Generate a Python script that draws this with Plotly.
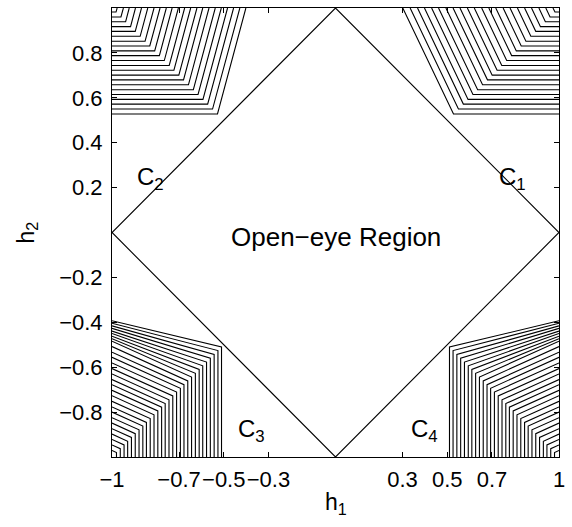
import plotly.graph_objects as go

# ---------------- data ----------------
# Diamond boundary of the open-eye region (|h1|+|h2| = 1)
diamond_h1 = [-1, 0, 1, 0, -1]
diamond_h2 = [0, 1, 0, -1, 0]

# Upper corners (C1, C2): 22 contour levels.
# corner offset d of each contour from the figure corner (corner lies on |h1| = h2 = 1-d)
upper_corner = [0.018, 0.040, 0.061, 0.083, 0.104, 0.126, 0.148, 0.169, 0.191, 0.212, 0.234,
                0.256, 0.277, 0.299, 0.320, 0.342, 0.364, 0.385, 0.407, 0.428, 0.450, 0.472]
# where each contour meets the top edge (distance from the side edge)
c1_top = [0.027, 0.059, 0.090, 0.123, 0.154, 0.186, 0.219, 0.250, 0.283, 0.314, 0.346,
          0.379, 0.410, 0.443, 0.474, 0.506, 0.539, 0.570, 0.602, 0.633, 0.666, 0.699]
c2_top = [0.023, 0.051, 0.077, 0.105, 0.132, 0.160, 0.188, 0.215, 0.243, 0.269, 0.297,
          0.325, 0.352, 0.380, 0.406, 0.434, 0.462, 0.489, 0.517, 0.544, 0.572, 0.599]

# Lower corners (C3, C4): 29 contour levels.
lower_corner = [0.020, 0.037, 0.054, 0.070, 0.087, 0.104, 0.121, 0.138, 0.154, 0.171,
                0.188, 0.205, 0.222, 0.238, 0.255, 0.272, 0.289, 0.306, 0.322, 0.339,
                0.356, 0.373, 0.390, 0.406, 0.423, 0.440, 0.457, 0.474, 0.490]
# height above the bottom edge where each contour meets the side edge
lower_side = [0.029, 0.054, 0.078, 0.102, 0.126, 0.151, 0.175, 0.200, 0.223, 0.248,
              0.273, 0.297, 0.322, 0.345, 0.370, 0.394, 0.419, 0.444, 0.467, 0.492,
              0.516, 0.527, 0.538, 0.550, 0.561, 0.573, 0.584, 0.596, 0.607]

x_tickvals = [-1, -0.7, -0.5, -0.3, 0.3, 0.5, 0.7, 1]
x_ticktext = ["\u22121", "\u22120.7", "\u22120.5", "\u22120.3", "0.3", "0.5", "0.7", "1"]
y_tickvals = [-0.8, -0.6, -0.4, -0.2, 0.2, 0.4, 0.6, 0.8]
y_ticktext = ["\u22120.8", "\u22120.6", "\u22120.4", "\u22120.2", "0.2", "0.4", "0.6", "0.8"]

region_labels = ["C<sub>1</sub>", "C<sub>2</sub>", "C<sub>3</sub>", "C<sub>4</sub>"]
region_h1 = [0.792, -0.828, -0.378, 0.396]
region_h2 = [0.24, 0.24, -0.88, -0.88]
center_label = "Open\u2212eye Region"

# ---------------- build polylines ----------------
def add_poly(xs, ys, px, py):
    xs.extend(px + [None])
    ys.extend(py + [None])

c1x, c1y, c2x, c2y, c3x, c3y, c4x, c4y = ([] for _ in range(8))
for d, t1, t2 in zip(upper_corner, c1_top, c2_top):
    # C1: from top edge down-right to corner, then horizontal to the right edge
    add_poly(c1x, c1y, [1 - t1, 1 - d, 1], [1, 1 - d, 1 - d])
    # C2: horizontal from left edge to corner, then up-right to top edge
    add_poly(c2x, c2y, [-1, -1 + d, -1 + t2], [1 - d, 1 - d, 1])
for d, e in zip(lower_corner, lower_side):
    # C3: from left edge down-right to corner, then vertical to bottom
    add_poly(c3x, c3y, [-1, -1 + d, -1 + d], [-1 + e, -1 + d, -1])
    # C4: mirror on the right
    add_poly(c4x, c4y, [1, 1 - d, 1 - d], [-1 + e, -1 + d, -1])

line_style = dict(color="black", width=1.1)
fig = go.Figure()
for xs, ys in [(c1x, c1y), (c2x, c2y), (c3x, c3y), (c4x, c4y), (diamond_h1, diamond_h2)]:
    fig.add_trace(go.Scatter(x=xs, y=ys, mode="lines", line=line_style,
                             hoverinfo="skip", showlegend=False))

FONT = "Liberation Sans, Arial, Helvetica, sans-serif"
axis_common = dict(showline=True, linecolor="black", linewidth=1, mirror="ticks",
                   ticks="inside", ticklen=5, tickcolor="black", tickwidth=1,
                   showgrid=False, zeroline=False, tickangle=0,
                   tickfont=dict(family=FONT, size=22, color="black"))

fig.update_xaxes(range=[-1, 1], tickvals=x_tickvals, ticktext=x_ticktext,
                 ticklabelstandoff=3, **axis_common)
fig.update_yaxes(range=[-1, 1], tickvals=y_tickvals, ticktext=y_ticktext,
                 ticklabelstandoff=4, **axis_common)

annotations = []
for txt, ax, ay in zip(region_labels, region_h1, region_h2):
    annotations.append(dict(x=ax, y=ay, xref="x", yref="y", text=txt, showarrow=False,
                            font=dict(family=FONT, size=24, color="black")))
annotations.append(dict(x=0, y=-0.02, xref="x", yref="y", text=center_label, showarrow=False,
                        font=dict(family=FONT, size=26, color="black")))
annotations.append(dict(x=0.5, y=0, xref="paper", yref="paper", text="h<sub>1</sub>",
                        showarrow=False, yanchor="top", yshift=-30,
                        font=dict(family=FONT, size=23, color="black")))
annotations.append(dict(x=0, y=0.5, xref="paper", yref="paper", text="h<sub>2</sub>",
                        showarrow=False, xanchor="center", xshift=-85, textangle=-90,
                        font=dict(family=FONT, size=23, color="black")))

fig.update_layout(width=572, height=527, margin=dict(l=112, r=10, t=7, b=70),
                  plot_bgcolor="white", paper_bgcolor="white",
                  annotations=annotations)

fig.write_html("out.html")
